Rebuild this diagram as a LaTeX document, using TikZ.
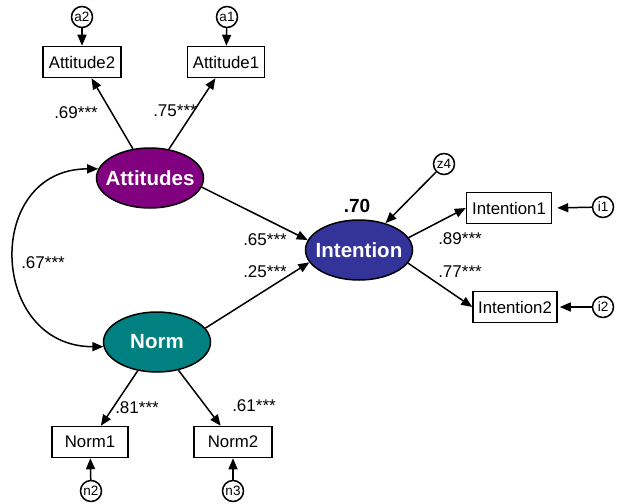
\documentclass[tikz,border=0pt]{standalone}
\usepackage{fontspec}
\setmainfont{Liberation Sans}
\usetikzlibrary{shapes.geometric,arrows.meta}
\definecolor{attcol}{RGB}{128,0,128}
\definecolor{normcol}{RGB}{0,128,128}
\definecolor{intcol}{RGB}{51,51,153}
\begin{document}
\begin{tikzpicture}[x=1pt,y=-1pt,
  line width=1.5pt,
  arr/.style={-{Triangle[length=11pt,width=9pt]}},
  darr/.style={{Triangle[length=11pt,width=9pt]}-{Triangle[length=11pt,width=9pt]}},
  obs/.style={draw,rectangle,minimum height=31pt,inner sep=0pt,font=\fontsize{16.8}{18}\selectfont},
  lat/.style={draw,ellipse,minimum width=107pt,minimum height=60pt,inner sep=0pt,text=white,font=\fontsize{20.5}{22}\selectfont\bfseries},
  err/.style={draw,circle,minimum size=21pt,inner sep=0pt,font=\fontsize{13.5}{14}\selectfont},
  lbl/.style={inner sep=0pt,font=\fontsize{17}{18}\selectfont}]
\useasboundingbox (0,0) rectangle (620,503);
% latent variables
\node[lat,fill=attcol] (att) at (150,178) {\makebox[0pt]{Attitudes}};
\node[lat,fill=normcol] (norm) at (157,342) {\makebox[0pt]{Norm}};
\node[lat,fill=intcol] (int) at (359,250) {\makebox[0pt]{Intention}};
% observed
\node[obs,minimum width=78pt] (att2) at (82,62) {Attitude2};
\node[obs,minimum width=77pt] (att1) at (226,62) {Attitude1};
\node[obs,minimum width=85pt] (in1) at (509,208) {Intention1};
\node[obs,minimum width=84pt] (in2) at (515,307) {Intention2};
\node[obs,minimum width=76pt] (n1) at (90,442) {Norm1};
\node[obs,minimum width=78pt] (n2b) at (233,442) {Norm2};
% errors
\node[err] (a2) at (82,17) {a2};
\node[err] (a1) at (227,17) {a1};
\node[err] (z4) at (444,164) {z4};
\node[err] (i1) at (603,207) {i1};
\node[err] (i2) at (603,307) {i2};
\node[err] (e2) at (91,491) {n2};
\node[err] (e3) at (233,491) {n3};
% connectors
\draw[arr] (a2) -- (att2);
\draw[arr] (a1) -- (att1);
\draw[arr] (att) -- (att2);
\draw[arr] (att) -- (att1);
\draw[darr] (att.170) to[out=180,in=180,looseness=1.65] (norm.185);
\draw[arr] (att.-10) -- (int.169);
\draw[arr] (norm.16) -- (int.194);
\draw[arr] (z4) -- (int);
\draw[arr] (int.14) -- (in1.west);
\draw[arr] (int.-15) -- (in2.west);
\draw[arr,shorten >=5pt] (i1) -- (in1.east);
\draw[arr,shorten >=2pt] (i2) -- (in2.east);
\draw[arr] (norm) -- (n1);
\draw[arr] (norm) -- (n2b);
\draw[arr] (e2) -- (n1);
\draw[arr] (e3) -- (n2b);
% labels
\node[lbl] (l69) at (76,113) {.69***};
\node[lbl] (l75) at (175,111) {.75***};
\node[lbl] (l67) at (43,263) {.67***};
\node[lbl] (l65) at (265,240) {.65***};
\node[lbl] (l25) at (265,272) {.25***};
\node[lbl,font=\fontsize{19}{20}\selectfont\bfseries] (l70) at (357,206) {.70};
\node[lbl] (l89) at (460,239) {.89***};
\node[lbl] (l77) at (460,272) {.77***};
\node[lbl] (l81) at (137,408) {.81***};
\node[lbl] (l61) at (254,406) {.61***};
\end{tikzpicture}
\end{document}
